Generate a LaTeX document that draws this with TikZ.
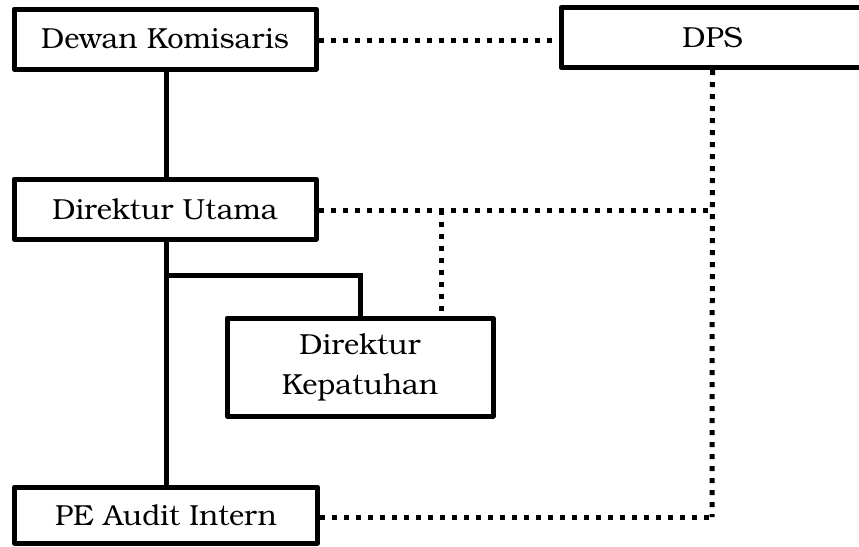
\documentclass[tikz,border=0pt]{standalone}
\usepackage{fontspec}
\setmainfont{TeX Gyre Bonum}
\begin{document}
\begin{tikzpicture}[x=1pt,y=-1pt,
  box/.style={draw=black,line width=5pt,line join=round,fill=white,inner sep=0pt,
    font=\fontsize{29}{40}\selectfont,align=center},
  solidcon/.style={draw=black,line width=5pt},
  dotcon/.style={draw=black,line width=5pt,dash pattern=on 5pt off 7pt}]
\useasboundingbox (0,0) rectangle (859,546);
\clip (0,0) rectangle (859,546);
\node[box,minimum width=302pt,minimum height=60pt] (dk) at (165,39) {Dewan Komisaris};
\node[box,minimum width=303pt,minimum height=60pt] (dps) at (712.5,37.5) {DPS};
\node[box,minimum width=302pt,minimum height=60pt] (du) at (165,209) {Direktur Utama};
\node[box,minimum width=266pt,minimum height=98pt] (dkp) at (360,367) {Direktur\\Kepatuhan};
\node[box,minimum width=303pt,minimum height=56pt] (pe) at (166,515) {PE Audit Intern};
\coordinate (br) at (166,275);
\coordinate (c1) at (712,210);
\coordinate (c2) at (712,517);
\coordinate (c3) at (441,210);
% solid
\draw[solidcon] (dk.south -| br) -- (du.north -| br);
\draw[solidcon] (du.south -| br) -- (pe.north -| br);
\draw[solidcon] (br) -| (dkp.north);
% dotted
\draw[dotcon] (dk.east |- 0,40) -- (dps.west |- 0,40);
\draw[dotcon] (du.east |- c1) -- (c1);
\draw[dotcon] (dps.south) -- (c2);
\draw[dotcon] (pe.east |- c2) -- (c2);
\draw[dotcon] (c3) -- (dkp.north -| c3);
\end{tikzpicture}
\end{document}
